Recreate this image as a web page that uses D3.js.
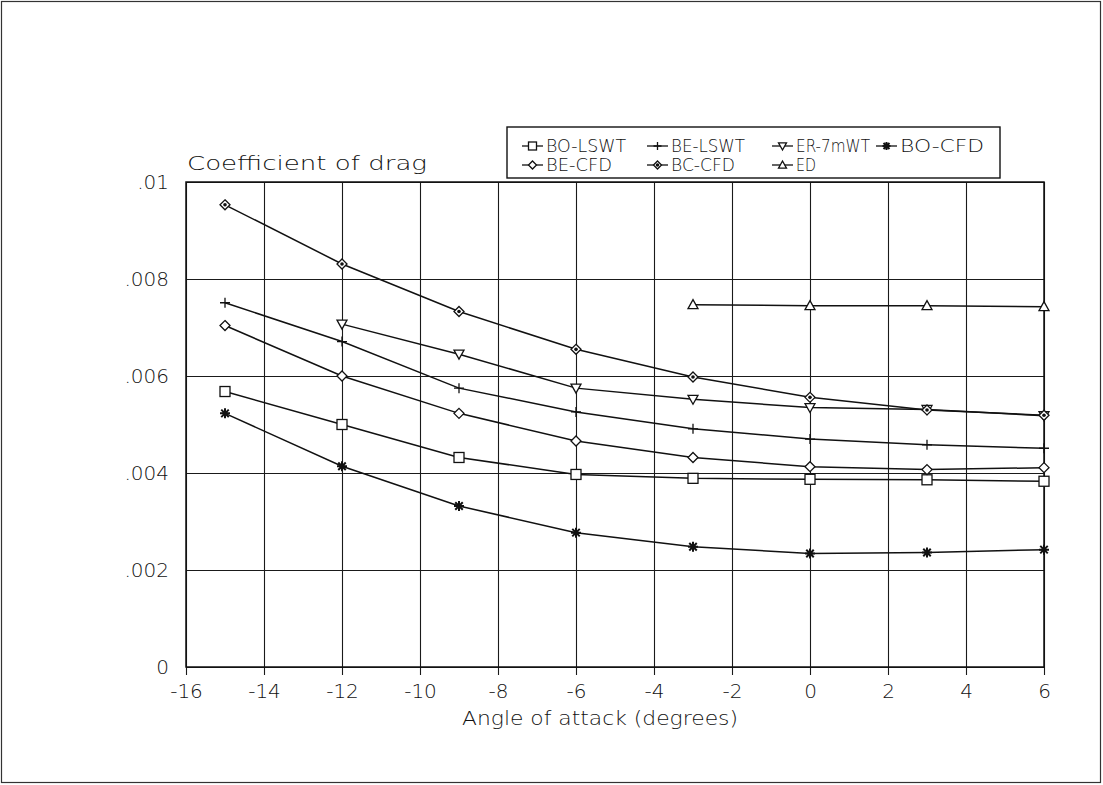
<!DOCTYPE html>
<meta charset="utf-8">
<style>
    body { margin: 0; background: #fff; }
    svg { display: block; }
    text {
        font-family: "DejaVu Sans", "Liberation Sans", sans-serif;
        font-weight: 200;
        fill: #111;
    }
    .grid line { stroke: #1a1a1a; stroke-width: 1.1px; }
    .series { fill: none; stroke: #111; stroke-width: 1.5px; }
    .marker { stroke: #111; stroke-width: 1.3px; }
</style>
<svg width="1103" height="785"></svg>
<script src="https://cdn.jsdelivr.net/npm/d3@7/dist/d3.min.js"></script>
<script>

    // angle of attack (degrees)
    var angles = [-15, -12, -9, -6, -3, 0, 3, 6];

    var boLswt = [0.00568, 0.00500, 0.00432, 0.00397, 0.00389, 0.00387, 0.00386, 0.00383];
    var beLswt = [0.00751, 0.00671, 0.00575, 0.00526, 0.00491, 0.00470, 0.00458, 0.00451];
    var erAngles = [-12, -9, -6, -3, 0, 3, 6];
    var er7mWt = [0.00707, 0.00645, 0.00575, 0.00552, 0.00535, 0.00531, 0.00518];
    var boCfd = [0.00523, 0.00414, 0.00332, 0.00277, 0.00248, 0.00234, 0.00236, 0.00242];
    var beCfd = [0.00704, 0.00600, 0.00523, 0.00466, 0.00432, 0.00413, 0.00407, 0.00411];
    var bcCfd = [0.00953, 0.00831, 0.00733, 0.00655, 0.00598, 0.00556, 0.00530, 0.00519];
    var edAngles = [-3, 0, 3, 6];
    var ed = [0.00747, 0.00745, 0.00745, 0.00743];

    var xTicks = [-16, -14, -12, -10, -8, -6, -4, -2, 0, 2, 4, 6];
    var yTicks = [0, 0.002, 0.004, 0.006, 0.008, 0.01];

    var series = [
        {name: "BO-LSWT", x: angles, y: boLswt, mark: "square"},
        {name: "BE-LSWT", x: angles, y: beLswt, mark: "plus"},
        {name: "ER-7mWT", x: erAngles, y: er7mWt, mark: "tridown"},
        {name: "BO-CFD", x: angles, y: boCfd, mark: "star"},
        {name: "BE-CFD", x: angles, y: beCfd, mark: "diamond"},
        {name: "BC-CFD", x: angles, y: bcCfd, mark: "diamonddot"},
        {name: "ED", x: edAngles, y: ed, mark: "triup"}
    ];

    var svg = d3.select("svg");

    // page border of the scanned figure
    svg.append("rect")
        .attr("x", 1.5).attr("y", 1.5)
        .attr("width", 1099).attr("height", 781)
        .attr("fill", "none").attr("stroke", "#333").attr("stroke-width", 1.2);

    var pLeft = 186, pRight = 1044, pTop = 182, pBottom = 667;

    var x = d3.scaleLinear().domain([-16, 6]).range([pLeft, pRight]);
    var y = d3.scaleLinear().domain([0, 0.01]).range([pBottom, pTop]);

    var fmtY = function (d) {
        return d === 0 ? "0" : d3.format(".3~f")(d).replace(/^0/, "");
    };

    // vertical grid + x ticks
    var xAxis = svg.append("g")
        .attr("class", "grid")
        .attr("transform", "translate(0," + pBottom + ")")
        .call(d3.axisBottom(x).tickValues(xTicks)
            .tickSize(-(pBottom - pTop)).tickSizeOuter(0)
            .tickFormat(function (d) { return d < 0 ? "-" + Math.abs(d) : d; }));
    xAxis.select(".domain").remove();
    xAxis.selectAll(".tick line").attr("y1", 8);
    xAxis.selectAll("text")
        .style("font-size", "20px")
        .attr("y", 16)
        .attr("dy", "0.75em")
        .attr("fill", "#111");

    // horizontal grid + y ticks
    var yAxis = svg.append("g")
        .attr("class", "grid")
        .attr("transform", "translate(" + pLeft + ",0)")
        .call(d3.axisLeft(y).tickValues(yTicks)
            .tickSize(-(pRight - pLeft)).tickSizeOuter(0).tickPadding(17)
            .tickFormat(fmtY));
    yAxis.select(".domain").remove();
    yAxis.selectAll("text")
        .style("font-size", "20px")
        .attr("fill", "#111");

    // plot frame
    svg.append("rect")
        .attr("x", pLeft).attr("y", pTop)
        .attr("width", pRight - pLeft).attr("height", pBottom - pTop)
        .attr("fill", "none").attr("stroke", "#111").attr("stroke-width", 1.5);

    // axis titles
    svg.append("text")
        .attr("x", 187).attr("y", 170)
        .attr("textLength", 240).attr("lengthAdjust", "spacingAndGlyphs")
        .style("font-size", "19px")
        .text("Coefficient of drag");

    svg.append("text")
        .attr("x", 462).attr("y", 725)
        .attr("textLength", 276).attr("lengthAdjust", "spacingAndGlyphs")
        .style("font-size", "19px")
        .text("Angle of attack (degrees)");

    function drawMarker(g, type, s) {
        var h = s / 2;
        if (type === "square") {
            g.append("rect").attr("class", "marker")
                .attr("x", -h).attr("y", -h).attr("width", s).attr("height", s)
                .attr("fill", "#fff");
        } else if (type === "plus") {
            g.append("path").attr("class", "marker")
                .attr("d", "M" + (-h) + ",0H" + h + "M0," + (-h) + "V" + h);
        } else if (type === "tridown" || type === "triup") {
            var k = type === "triup" ? -1 : 1;
            g.append("path").attr("class", "marker").attr("fill", "#fff")
                .attr("d", "M" + (-h) + "," + (-k * h * 0.8) + "L" + h + "," + (-k * h * 0.8) + "L0," + (k * h) + "Z");
        } else if (type === "star") {
            var a = h * 0.75;
            g.append("path").attr("class", "marker").style("stroke-width", "2px")
                .attr("d", "M" + (-h) + ",0H" + h + "M0," + (-h) + "V" + h +
                    "M" + (-a) + "," + (-a) + "L" + a + "," + a + "M" + (-a) + "," + a + "L" + a + "," + (-a));
        } else if (type === "diamond" || type === "diamonddot") {
            g.append("path").attr("class", "marker").attr("fill", "#fff")
                .attr("d", "M0," + (-h) + "L" + h + ",0L0," + h + "L" + (-h) + ",0Z");
            if (type === "diamonddot") {
                g.append("circle").attr("r", 1.8).attr("fill", "#111");
            }
        }
    }

    var line = d3.line()
        .x(function (d) { return x(d[0]); })
        .y(function (d) { return y(d[1]); });

    series.forEach(function (s) {
        var pts = s.x.map(function (v, i) { return [v, s.y[i]]; });
        svg.append("path")
            .attr("class", "series")
            .attr("d", line(pts));
        pts.forEach(function (p) {
            var g = svg.append("g")
                .attr("transform", "translate(" + x(p[0]) + "," + y(p[1]) + ")");
            drawMarker(g, s.mark, 10);
        });
    });

    // legend
    var legendCols = [522, 647, 772, 876];
    var legendRows = [146, 165];
    var legendWidths = {"BO-LSWT": 80, "BE-LSWT": 74, "ER-7mWT": 74, "BO-CFD": 84,
        "BE-CFD": 66, "BC-CFD": 64, "ED": 20};

    var legend = svg.append("g");
    legend.append("rect")
        .attr("x", 507).attr("y", 127)
        .attr("width", 493).attr("height", 51)
        .attr("fill", "#fff").attr("stroke", "#111").attr("stroke-width", 1.4);

    series.forEach(function (s, i) {
        var cx = legendCols[i % 4], cy = legendRows[Math.floor(i / 4)];
        legend.append("line")
            .attr("x1", cx).attr("x2", cx + 21)
            .attr("y1", cy).attr("y2", cy)
            .attr("stroke", "#111").attr("stroke-width", 1.3);
        var g = legend.append("g").attr("transform", "translate(" + (cx + 10.5) + "," + cy + ")");
        drawMarker(g, s.mark, 8);
        legend.append("text")
            .attr("x", cx + 24).attr("y", cy)
            .attr("dy", "0.36em")
            .attr("textLength", legendWidths[s.name]).attr("lengthAdjust", "spacingAndGlyphs")
            .style("font-size", "17px")
            .text(s.name);
    });

</script>
